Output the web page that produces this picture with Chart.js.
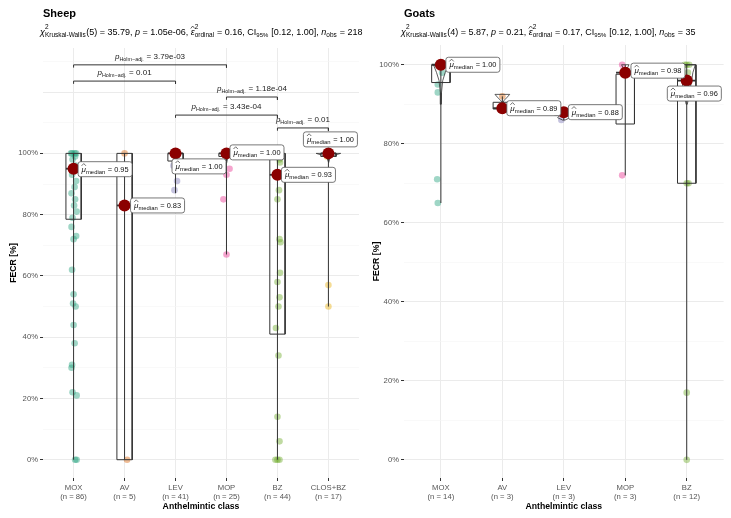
<!DOCTYPE html>
<html>
<head>
<meta charset="utf-8">
<script src="https://cdn.jsdelivr.net/npm/chart.js@4.4.0/dist/chart.umd.min.js"></script>
<style>
  html, body { margin: 0; padding: 0; background: #fff; }
  #wrap { position: relative; width: 731px; height: 518px; }
  .panel { position: absolute; top: 0; }
  #p1 { left: 0; }
  #p2 { left: 365px; }
</style>
</head>
<body>
<div id="wrap">
  <div class="panel" id="p1"><canvas id="sheep" width="365" height="518"></canvas></div>
  <div class="panel" id="p2"><canvas id="goats" width="366" height="518"></canvas></div>
</div>
<script>
/* FECR by anthelmintic class — sheep (left) and goats (right),
   ggbetweenstats-style: jittered points, boxes, thin violins, median
   dots + labels, pairwise Holm-adjusted brackets on the sheep panel. */

// ---- sheep data ----
const sheepClasses = ["MOX", "AV", "LEV", "MOP", "BZ", "CLOS+BZ"];
const sheepN = [86, 5, 41, 25, 44, 17];
const sheepMedian = [0.95, 0.83, 1.00, 1.00, 0.93, 1.00];
const sheepQ1 = [78.5, 0, 97.5, 99, 41, 99];
const sheepQ3 = [100, 100, 100, 100, 100, 100];
const sheepLow = [0, 0, 87, 67, 0, 50];
const sheepHigh = [100, 100, 100, 100, 100, 100];
const sheepPoints = [
  [100, 100, 100, 100, 99, 98, 96, 95, 93, 91, 89, 87, 85, 83, 81, 79, 76, 73, 72, 62, 54, 51, 50, 44, 38, 31, 30, 22, 21, 0, 0],
  [100, 0],
  [100, 100, 96, 91, 88],
  [100, 95, 93, 85, 67],
  [100, 100, 98, 97, 88, 85, 72, 71, 61, 58, 53, 50, 43, 34, 14, 6, 0, 0, 0],
  [100, 100, 99, 57, 50],
];
const sheepJitter = [
  [-0.03, 0.02, 0.05, -0.05, 0.03, -0.02, 0.04, 0.0, -0.03, 0.05, 0.02, -0.04, 0.03, 0.01, 0.06, -0.02, -0.04, 0.05, 0.0, -0.03, 0.0, -0.01, 0.04, 0.0, 0.02, -0.03, -0.04, -0.02, 0.06, 0.03, 0.06],
  [0.0, 0.05],
  [0.02, -0.03, -0.04, 0.03, -0.02],
  [0.0, 0.06, 0.0, -0.06, 0.0],
  [0.02, -0.03, 0.04, 0.05, 0.03, 0.0, 0.04, 0.06, 0.05, 0.0, 0.04, 0.02, -0.03, 0.02, 0.0, 0.04, -0.04, 0.0, 0.04],
  [0.0, 0.03, -0.03, 0.0, 0.0],
];
// violin outlines: levels (%) and half-widths (category units)
const sheepViolinY = [[], [], [100, 99, 97], [100, 99, 97], [], [100, 99.3, 98.5, 97]];
const sheepViolinW = [[], [], [0.06, 0.03, 0.005], [0.09, 0.03, 0.005], [], [0.24, 0.1, 0.03, 0.005]];
const sheepStatsText = ["(5) = 35.79, ", " = 1.05e-06, ", " = 0.16, CI", " [0.12, 1.00], ", " = 218"];

// pairwise comparisons (sheep)
const bracketFrom = [1, 1, 4, 3, 5];
const bracketTo = [4, 3, 5, 5, 6];
const bracketY = [128.9, 123.6, 118.4, 112.5, 108.3];
const bracketP = ["3.79e-03", "0.01", "1.18e-04", "3.43e-04", "0.01"];

// ---- goat data ----
const goatClasses = ["MOX", "AV", "LEV", "MOP", "BZ"];
const goatN = [14, 3, 3, 3, 12];
const goatMedian = [1.00, 0.89, 0.88, 0.98, 0.96];
const goatQ1 = [95.5, 88.8, 87.2, 85, 70];
const goatQ3 = [100, 90.5, 88.4, 97.6, 100];
const goatLow = [65, 88, 86, 72, 0];
const goatHigh = [100, 92, 88.5, 100, 100];
const goatPoints = [
  [100, 100, 100, 100, 100, 98, 95, 93, 71, 65],
  [92, 89, 89],
  [88, 88, 86],
  [100, 98, 72],
  [100, 100, 100, 98, 96, 96, 70, 70, 17, 0],
];
const goatJitter = [
  [0.0, 0.03, -0.03, 0.05, -0.05, 0.02, -0.05, -0.05, -0.06, -0.05],
  [0.0, 0.02, -0.02],
  [0.0, 0.02, -0.04],
  [-0.05, 0.0, -0.05],
  [0.0, 0.04, -0.03, 0.02, 0.0, 0.03, 0.0, 0.03, 0.0, 0.0],
];
const goatViolinY = [[100, 98, 96, 93, 90], [92.5, 91.8, 91, 90.3], [88, 87.3, 86.6, 86], [100, 99, 97], [100, 98, 96, 90]];
const goatViolinW = [[0.12, 0.07, 0.03, 0.01, 0.003], [0.12, 0.08, 0.03, 0.005], [0.01, 0.06, 0.1, 0.02], [0.06, 0.03, 0.005], [0.14, 0.1, 0.08, 0.01]];
const goatStatsText = ["(4) = 5.87, ", " = 0.21, ", " = 0.17, CI", " [0.12, 1.00], ", " = 35"];

const yGridSheep = [0, 10, 20, 30, 40, 50, 60, 70, 80, 90, 100, 110, 120, 130];
const yGridGoats = [0, 10, 20, 30, 40, 50, 60, 70, 80, 90, 100];

// ---- styling ----
const FONT = '"Liberation Sans", Arial, Helvetica, sans-serif';
const PALETTE = ["#1B9E77", "#D95F02", "#7570B3", "#E7298A", "#66A61E", "#E6AB02"];
const BOX_HALF = 0.15;
const INK = "#333333";

// label offsets (px) from each median dot: left edge of box, centre-y of box
const sheepLabelDx = [4.5, 6, -3.5, 3.5, 4, -25];
const sheepLabelDy = [0.5, 0, 13, -1, 0, -14];
const goatLabelDx = [5, 4.5, 4.5, 5.7, -19.4];
const goatLabelDy = [0, 0, 0, -2, 13];

function hexA(hex, a) {
  const n = parseInt(hex.slice(1), 16);
  return `rgba(${(n >> 16) & 255},${(n >> 8) & 255},${n & 255},${a})`;
}

function fontStr(size, italic, bold) {
  return `${italic ? "italic " : ""}${bold ? "bold " : ""}${size}px ${FONT}`;
}

// draw a list of text runs; returns total width. runs: {t,s,i,b,hat} or {sup,sub,ss}
function drawRuns(ctx, runs, x, y, draw) {
  let cx = x;
  ctx.textAlign = "left";
  ctx.textBaseline = "alphabetic";
  for (const r of runs) {
    if (r.sub !== undefined || r.sup !== undefined) {
      ctx.font = fontStr(r.ss);
      let w = 0;
      if (r.sup) {
        if (draw) ctx.fillText(r.sup, cx, y - r.ss * 0.85);
        w = Math.max(w, ctx.measureText(r.sup).width);
      }
      if (r.sub) {
        if (draw) ctx.fillText(r.sub, cx, y + r.ss * 0.35);
        w = Math.max(w, ctx.measureText(r.sub).width);
      }
      cx += w + 0.5;
    } else {
      ctx.font = fontStr(r.s, r.i, r.b);
      const w = ctx.measureText(r.t).width;
      if (draw) {
        ctx.fillText(r.t, cx, y);
        if (r.hat) {
          ctx.save();
          ctx.lineWidth = 0.6;
          ctx.strokeStyle = ctx.fillStyle;
          ctx.beginPath();
          ctx.moveTo(cx, y - r.s * 0.72);
          ctx.lineTo(cx + w / 2, y - r.s * 1.0);
          ctx.lineTo(cx + w, y - r.s * 0.72);
          ctx.stroke();
          ctx.restore();
        }
      }
      cx += w;
    }
  }
  return cx - x;
}

function subtitleRuns(t, s) {
  const ss = s * 0.72;
  return [
    { t: "χ", s, i: true },
    { sup: "2", sub: "Kruskal-Wallis", ss },
    { t: t[0], s },
    { t: "p", s, i: true },
    { t: t[1], s },
    { t: "ε", s, i: true, hat: true },
    { sup: "2", sub: "ordinal", ss },
    { t: t[2], s },
    { sub: "95%", ss: ss * 0.92 },
    { t: t[3], s },
    { t: "n", s, i: true },
    { sub: "obs", ss },
    { t: t[4], s },
  ];
}

const headerPlugin = {
  id: "header",
  afterDraw(chart, args, opts) {
    const ctx = chart.ctx;
    const left = chart.chartArea.left;
    ctx.save();
    ctx.fillStyle = "#000";
    ctx.font = fontStr(11, false, true);
    ctx.textBaseline = "alphabetic";
    ctx.fillText(opts.title, left, 17);
    drawRuns(ctx, subtitleRuns(opts.stats, 9), left - 3, 35, true);
    ctx.restore();
  },
};

const medianLabelPlugin = {
  id: "medianLabels",
  afterDatasetsDraw(chart, args, opts) {
    const ctx = chart.ctx;
    const xs = chart.scales.x, ys = chart.scales.y;
    ctx.save();
    opts.median.forEach((m, i) => {
      const px = xs.getPixelForValue(i + 1);
      const py = ys.getPixelForValue(m * 100);
      const runs = [
        { t: "μ", s: 8, i: true, hat: true },
        { sub: "median", ss: 5.9 },
        { t: " = " + m.toFixed(2), s: 7.4 },
      ];
      const w = drawRuns(ctx, runs, 0, 0, false);
      const bx = px + opts.dx[i];
      const cy = py + opts.dy[i];
      const bw = w + 7, bh = 15;
      ctx.beginPath();
      ctx.roundRect(bx, cy - bh / 2, bw, bh, 2.5);
      ctx.fillStyle = "#fff";
      ctx.fill();
      ctx.lineWidth = 0.8;
      ctx.strokeStyle = "#555";
      ctx.stroke();
      ctx.fillStyle = "#111";
      drawRuns(ctx, runs, bx + 3.5, cy + 2.4, true);
    });
    ctx.restore();
  },
};

const bracketLabelPlugin = {
  id: "bracketLabels",
  afterDatasetsDraw(chart, args, opts) {
    if (!opts.p) return;
    const ctx = chart.ctx;
    const xs = chart.scales.x, ys = chart.scales.y;
    ctx.save();
    ctx.fillStyle = "#222";
    opts.p.forEach((p, i) => {
      const mid = (xs.getPixelForValue(opts.from[i]) + xs.getPixelForValue(opts.to[i])) / 2;
      const y = ys.getPixelForValue(opts.y[i]);
      const runs = [
        { t: "p", s: 8, i: true },
        { sub: "Holm−adj.", ss: 5.4 },
        { t: " = " + p, s: 8 },
      ];
      const w = drawRuns(ctx, runs, 0, 0, false);
      drawRuns(ctx, runs, mid - w / 2, y - 6, true);
    });
    ctx.restore();
  },
};

function buildDatasets(d) {
  const ds = [];
  ds.push({
    data: d.median.map((m, i) => ({ x: i + 1, y: m * 100 })),
    pointRadius: 6,
    pointBackgroundColor: "#8B0000",
    pointBorderWidth: 0,
    showLine: false,
    order: 0,
  });
  d.classes.forEach((c, i) => {
    const x = i + 1;
    ds.push({
      data: [
        { x: x - BOX_HALF, y: d.q1[i] }, { x: x - BOX_HALF, y: d.q3[i] },
        { x: x + BOX_HALF, y: d.q3[i] }, { x: x + BOX_HALF, y: d.q1[i] },
        { x: x - BOX_HALF, y: d.q1[i] },
      ],
      showLine: true, borderColor: INK, borderWidth: 1, pointRadius: 0, order: 1,
    });
    ds.push({
      data: [{ x: x - BOX_HALF, y: d.median[i] * 100 }, { x: x + BOX_HALF, y: d.median[i] * 100 }],
      showLine: true, borderColor: INK, borderWidth: 1.8, pointRadius: 0, order: 1,
    });
    const vy = d.violinY[i], vw = d.violinW[i];
    if (vy.length) {
      const right = vy.map((v, k) => ({ x: x + vw[k], y: v }));
      const left = vy.map((v, k) => ({ x: x - vw[k], y: v })).reverse();
      ds.push({
        data: [...right, ...left, right[0]],
        showLine: true, borderColor: INK, borderWidth: 0.8, pointRadius: 0,
        fill: true, backgroundColor: "rgba(60,60,60,0.35)", order: 1,
      });
    }
    ds.push({
      data: [{ x, y: d.low[i] }, { x, y: d.high[i] }],
      showLine: true, borderColor: INK, borderWidth: 1, pointRadius: 0, order: 2,
    });
    ds.push({
      data: d.points[i].map((v, k) => ({ x: x + (d.jitter[i][k] || 0), y: v })),
      pointRadius: 3.3,
      pointBackgroundColor: hexA(PALETTE[i], 0.42),
      pointBorderWidth: 0,
      showLine: false,
      order: 3,
    });
  });
  (d.bFrom || []).forEach((a, i) => {
    const b = d.bTo[i], y = d.bY[i];
    ds.push({
      data: [{ x: a, y: y - 0.9 }, { x: a, y }, { x: b, y }, { x: b, y: y - 0.9 }],
      showLine: true, borderColor: INK, borderWidth: 1, pointRadius: 0, order: 1,
    });
  });
  return ds;
}

function makeChart(id, d) {
  const isMajor = (v) => v % 20 === 0;
  new Chart(document.getElementById(id), {
    type: "scatter",
    data: { datasets: buildDatasets(d) },
    options: {
      responsive: false,
      animation: false,
      events: [],
      layout: { padding: { left: 0, right: d.padRight, top: d.padTop, bottom: 0 } },
      plugins: {
        legend: { display: false },
        tooltip: { enabled: false },
        filler: { propagate: false },
        header: { title: d.title, stats: d.stats },
        medianLabels: { median: d.median, dx: d.labelDx, dy: d.labelDy },
        bracketLabels: { p: d.bP, from: d.bFrom, to: d.bTo, y: d.bY },
      },
      scales: {
        x: {
          type: "linear",
          min: 0.4,
          max: d.classes.length + 0.6,
          afterBuildTicks: (a) => { a.ticks = d.classes.map((c, i) => ({ value: i + 1 })); },
          afterFit: (s) => { s.height = 40; },
          ticks: {
            autoSkip: false,
            maxRotation: 0,
            padding: 2,
            color: "#555",
            font: { family: FONT, size: 7.7 },
            callback: (v) => [d.classes[v - 1], `(n = ${d.n[v - 1]})`],
          },
          grid: { color: "#ebebeb", lineWidth: 1, tickLength: 3, tickColor: INK },
          border: { display: false },
          title: {
            display: true,
            text: "Anthelmintic class",
            color: "#000",
            font: { family: FONT, size: 8.7, weight: "bold" },
            padding: { top: 0, bottom: 6 },
          },
        },
        y: {
          min: d.yMin,
          max: d.yMax,
          afterBuildTicks: (a) => { a.ticks = d.yGrid.map((v) => ({ value: v })); },
          afterFit: (s) => { s.width = d.yWidth; },
          ticks: {
            autoSkip: false,
            padding: 2,
            color: "#555",
            font: { family: FONT, size: 7.7 },
            callback: (v) => (v <= 100 && isMajor(v) ? v + "%" : ""),
          },
          grid: {
            color: (c) => (isMajor(c.tick.value) ? "#ebebeb" : "#f5f5f5"),
            lineWidth: (c) => (isMajor(c.tick.value) ? 1 : 0.6),
            tickLength: 3,
            tickColor: (c) => (c.tick.value <= 100 && isMajor(c.tick.value) ? INK : "rgba(0,0,0,0)"),
          },
          border: { display: false },
          title: {
            display: true,
            text: "FECR [%]",
            color: "#000",
            font: { family: FONT, size: 8.7, weight: "bold" },
            padding: { top: d.yTitlePad, bottom: 0 },
          },
        },
      },
    },
    plugins: [headerPlugin, medianLabelPlugin, bracketLabelPlugin],
  });
}

makeChart("sheep", {
  title: "Sheep", stats: sheepStatsText,
  classes: sheepClasses, n: sheepN, median: sheepMedian,
  q1: sheepQ1, q3: sheepQ3, low: sheepLow, high: sheepHigh,
  points: sheepPoints, jitter: sheepJitter,
  violinY: sheepViolinY, violinW: sheepViolinW,
  bFrom: bracketFrom, bTo: bracketTo, bY: bracketY, bP: bracketP,
  labelDx: sheepLabelDx, labelDy: sheepLabelDy,
  yMin: -5.97, yMax: 134.4, yGrid: yGridSheep,
  yWidth: 43, yTitlePad: 8, padTop: 48, padRight: 3,
});

makeChart("goats", {
  title: "Goats", stats: goatStatsText,
  classes: goatClasses, n: goatN, median: goatMedian,
  q1: goatQ1, q3: goatQ3, low: goatLow, high: goatHigh,
  points: goatPoints, jitter: goatJitter,
  violinY: goatViolinY, violinW: goatViolinW,
  labelDx: goatLabelDx, labelDy: goatLabelDy,
  yMin: -4.6, yMax: 105, yGrid: yGridGoats,
  yWidth: 39, yTitlePad: 6.5, padTop: 45, padRight: 7.4,
});
</script>
</body>
</html>
